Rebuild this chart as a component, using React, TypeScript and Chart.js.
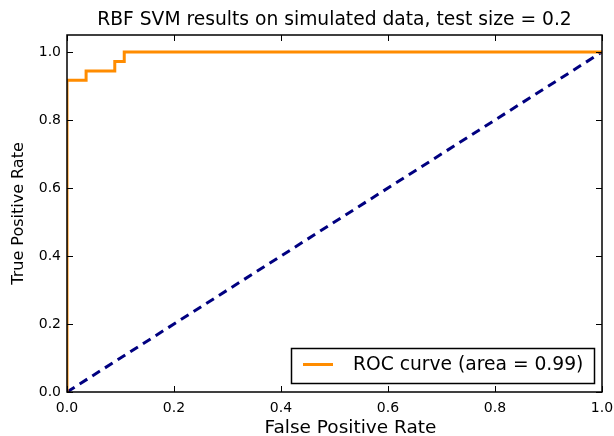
import React, { useEffect, useRef } from "react";
import { Chart, registerables } from "chart.js";

Chart.register(...registerables);

// ROC curve points (false positive rate, true positive rate)
const fpr = [0, 0, 0.0357, 0.0357, 0.0893, 0.0893, 0.107, 0.107, 1];
const tpr = [0, 0.9167, 0.9167, 0.9444, 0.9444, 0.9722, 0.9722, 1, 1];
// Chance diagonal
const chanceX = [0, 1];
const chanceY = [0, 1];
const tickValues = [0, 0.2, 0.4, 0.6, 0.8, 1.0];
const rocLabel = "ROC curve (area = 0.99)";
const titleText = "RBF SVM results on simulated data, test size = 0.2";
const xLabel = "False Positive Rate";
const yLabel = "True Positive Rate";

const FONT = "'DejaVu Sans', sans-serif";

// Title and x label, frame, inward ticks on all four sides, boxed legend
const framePlugin = {
  id: "frameAndLegend",
  afterDraw(chart: any) {
    const { ctx, chartArea: a, scales } = chart;
    const cx = (a.left + a.right) / 2;
    ctx.save();
    ctx.fillStyle = "#000";
    ctx.font = `18.7px ${FONT}`;
    ctx.textAlign = "center";
    ctx.textBaseline = "middle";
    ctx.fillText(titleText, cx, 20);

    ctx.font = `18.5px ${FONT}`;
    ctx.fillText(xLabel, cx + 16, a.bottom + 36);

    ctx.strokeStyle = "#000";
    ctx.lineWidth = 1;
    const tl = 6;
    ctx.beginPath();
    for (const v of tickValues) {
      const x = Math.round(scales.x.getPixelForValue(v)) + 0.5;
      ctx.moveTo(x, a.bottom);
      ctx.lineTo(x, a.bottom - tl);
      ctx.moveTo(x, a.top);
      ctx.lineTo(x, a.top + tl);
      const y = Math.round(scales.y.getPixelForValue(v)) + 0.5;
      ctx.moveTo(a.left, y);
      ctx.lineTo(a.left + tl, y);
      ctx.moveTo(a.right, y);
      ctx.lineTo(a.right - tl, y);
    }
    ctx.stroke();
    ctx.lineWidth = 1.5;
    ctx.strokeRect(a.left, a.top, a.right - a.left, a.bottom - a.top);

    // legend
    const ds = chart.data.datasets[0];
    const bx = a.right - 311;
    const by = a.bottom - 44;
    const bw = 303;
    const bh = 35;
    ctx.fillStyle = "#fff";
    ctx.fillRect(bx, by, bw, bh);
    ctx.lineWidth = 1.5;
    ctx.strokeStyle = "#000";
    ctx.strokeRect(bx + 0.5, by + 0.5, bw, bh);
    ctx.strokeStyle = ds.borderColor;
    ctx.lineWidth = 3;
    ctx.beginPath();
    ctx.moveTo(bx + 12, by + 16.5);
    ctx.lineTo(bx + 42, by + 16.5);
    ctx.stroke();
    ctx.fillStyle = "#000";
    ctx.font = `18.7px ${FONT}`;
    ctx.textAlign = "left";
    ctx.textBaseline = "middle";
    ctx.fillText(ds.label, bx + 62, by + 17.5);
    ctx.restore();
  },
};

export default function App() {
  const ref = useRef<HTMLCanvasElement>(null);
  useEffect(() => {
    document.body.style.margin = "0";
    const chart = new Chart(ref.current!, {
      type: "scatter",
      data: {
        datasets: [
          {
            label: rocLabel,
            data: fpr.map((x, i) => ({ x, y: tpr[i] })),
            showLine: true,
            borderColor: "#ff8c00",
            borderWidth: 3,
            pointRadius: 0,
            tension: 0,
          },
          {
            label: "chance",
            data: chanceX.map((x, i) => ({ x, y: chanceY[i] })),
            showLine: true,
            borderColor: "#000080",
            borderWidth: 3,
            borderDash: [9, 6],
            pointRadius: 0,
          },
        ],
      },
      options: {
        animation: false,
        responsive: false,
        layout: { padding: { left: 0, right: 12, top: 35, bottom: 0 } },
        plugins: {
          legend: { display: false },
          tooltip: { enabled: false },
          title: { display: false },
        },
        scales: {
          x: {
            type: "linear",
            min: 0,
            max: 1,
            afterFit: (s: any) => {
              s.height = 44;
              s.paddingLeft = 0;
              s.paddingRight = 0;
            },
            afterBuildTicks: (s: any) => {
              s.ticks = tickValues.map((v) => ({ value: v }));
            },
            grid: { display: false, drawTicks: false },
            border: { display: false },
            ticks: {
              color: "#000",
              padding: 8,
              maxRotation: 0,
              font: { family: FONT, size: 14 },
              callback: (v: any) => Number(v).toFixed(1),
            },
          },
          y: {
            type: "linear",
            min: 0,
            max: 1.05,
            afterFit: (s: any) => {
              s.width = 67;
              s.paddingTop = 0;
              s.paddingBottom = 0;
            },
            afterBuildTicks: (s: any) => {
              s.ticks = tickValues.map((v) => ({ value: v }));
            },
            grid: { display: false, drawTicks: false },
            border: { display: false },
            ticks: {
              color: "#000",
              padding: 6,
              font: { family: FONT, size: 14 },
              callback: (v: any) => Number(v).toFixed(1),
            },
            title: {
              display: true,
              text: yLabel,
              color: "#000",
              font: { family: FONT, size: 16, lineHeight: 1 },
              padding: { top: 11, bottom: 0 },
            },
          },
        },
      },
      plugins: [framePlugin],
    });
    return () => chart.destroy();
  }, []);
  return <canvas ref={ref} width={614} height={436} style={{ display: "block" }} />;
}
